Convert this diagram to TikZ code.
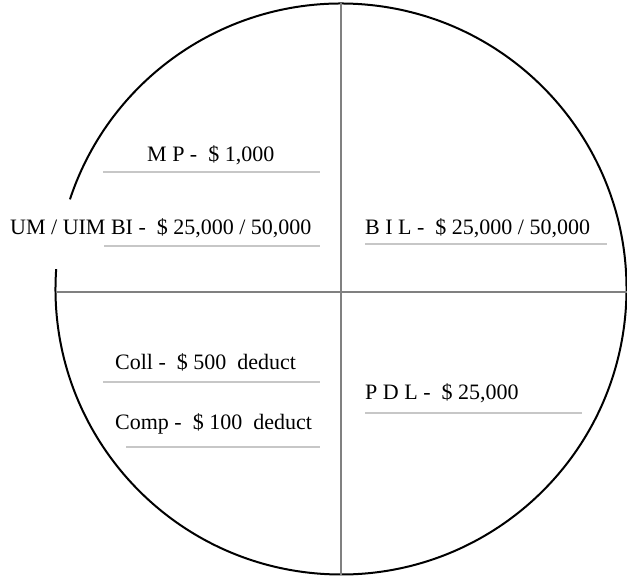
\documentclass[tikz,border=0pt]{standalone}
\usepackage{fontspec}
\setmainfont{Liberation Serif}
\usepackage{tikz}
\usetikzlibrary{positioning}

\begin{document}
\begin{tikzpicture}[x=1pt, y=1pt,
            ring/.style={draw=black, line width=2pt},
            axis/.style={draw=black!50, line width=2.2pt},
            rule/.style={draw=black!22, line width=1.4pt},
            entry/.style={anchor=base west, inner sep=0pt, font=\fontsize{22}{26}\selectfont}
        ]
            \useasboundingbox (0,0) rectangle (627,577);
            \coordinate (c) at (341,288);

            % outer ring, open at the left
            \draw [ring] (c) ++(176:285.5) arc [start angle=176, end angle=521.7, radius=285.5];

            % quarters
            \coordinate (top) at (341,574);
            \coordinate (bot) at (341,2);
            \coordinate (lft) at (55.5,285);
            \coordinate (rgt) at (626.5,285);
            \draw [axis] (top) -- (bot);
            \draw [axis] (lft) -- (rgt);

            % upper left
            \node [entry] (mp) at (147,415) {M P -~~\$ 1,000};
            \draw [rule] (103,405) -- (320,405);
            \node [entry] (um) at (10,342) {UM / UIM BI -~~\$ 25,000 / 50,000};
            \draw [rule] (104,331) -- (320,331);

            % upper right
            \node [entry] (bil) at (365,342) {B I L -~~\$ 25,000 / 50,000};
            \draw [rule] (365,333) -- (607,333);

            % lower left
            \node [entry] (coll) at (115,207) {Coll -~~\$ 500~~deduct};
            \draw [rule] (103,195) -- (320,195);
            \node [entry] (comp) at (115,147) {Comp -~~\$ 100~~deduct};
            \draw [rule] (126,130) -- (320,130);

            % lower right
            \node [entry] (pdl) at (365,177) {P D L -~~\$ 25,000};
            \draw [rule] (365,164) -- (582,164);
        \end{tikzpicture}
\end{document}
